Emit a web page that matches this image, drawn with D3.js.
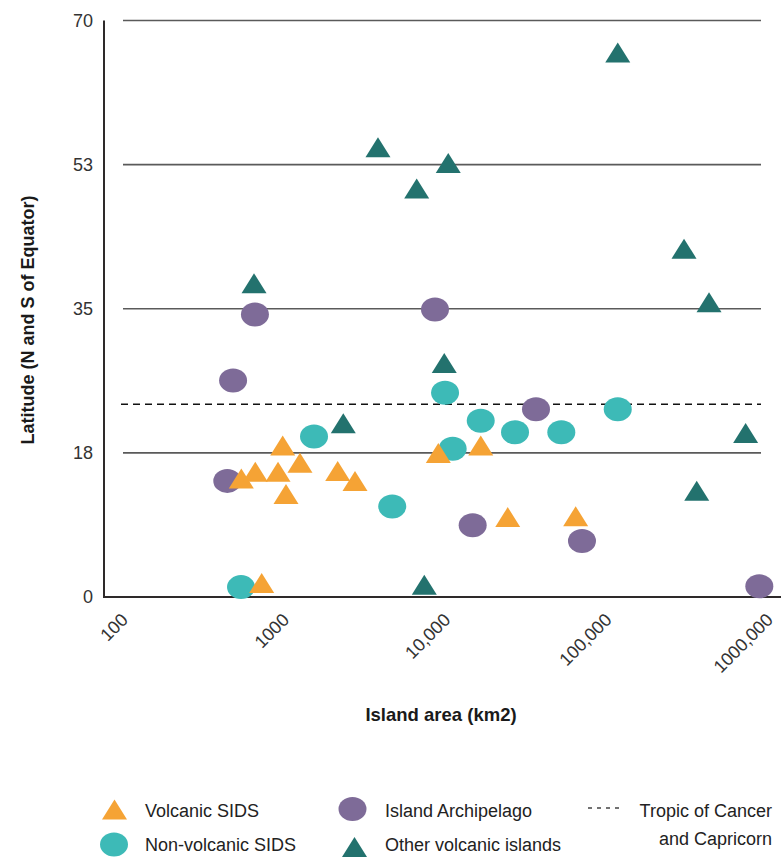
<!DOCTYPE html>
<html>
<head>
<meta charset="utf-8">
<script src="https://cdn.jsdelivr.net/npm/d3@7"></script>
<style>
  html, body { margin: 0; padding: 0; background: #fff; }
  svg { display: block; font-family: "Liberation Sans", Arial, sans-serif; }
</style>
</head>
<body>
<svg id="chart" width="781" height="857"></svg>
<script>
// Island area (km²) and latitude (degrees N or S of the equator)
const volcanicSidsArea = [898, 497, 607, 840, 1149, 941, 1968, 2521, 665, 8280, 15180, 22320, 58890];
const volcanicSidsLat  = [18.4, 14.4, 15.2, 15.2, 16.3, 12.5, 15.3, 14.1, 1.7, 17.5, 18.4, 9.7, 9.8];

const nonVolcanicSidsArea = [9120, 1404, 15180, 10170, 24770, 47970, 107400, 4290, 495];
const nonVolcanicSidsLat  = [24.8, 19.5, 21.4, 18.0, 20.0, 20.0, 22.8, 11.0, 1.2];

const archipelagoArea = [604, 7900, 442, 33420, 407, 13530, 64450, 810800];
const archipelagoLat  = [34.3, 34.9, 26.3, 22.8, 14.1, 8.7, 6.8, 1.3];

const otherVolcanicArea = [107400, 3500, 9550, 6085, 596, 276700, 395400, 9020, 2133, 667000, 331700, 6780];
const otherVolcanicLat  = [66.1, 54.6, 52.7, 49.6, 38.1, 42.3, 35.8, 28.4, 21.1, 19.9, 12.9, 1.5];

const yTicks = [0, 17.5, 35, 52.5, 70];
const yTickLabels = ["0", "18", "35", "53", "70"];
const xTicks = [100, 1000, 10000, 100000, 1000000];
const xTickLabels = ["100", "1000", "10,000", "100,000", "1000,000"];
const tropicLat = 23.4;

const colors = {
  volcanic: "#f5a335",
  nonVolcanic: "#3dbab7",
  archipelago: "#7e6b98",
  other: "#23726e"
};

const svg = d3.select("#chart");

const x = d3.scaleLog().domain([100, 1000000]).range([129, 774]);
const y = d3.scaleLinear().domain([0, 70]).range([597, 20.5]);

const zip = (a, b) => a.map((v, i) => ({ area: v, lat: b[i] }));

// Horizontal gridlines (all except the baseline)
svg.append("g")
  .selectAll("line")
  .data(yTicks.filter(d => d > 0))
  .join("line")
  .attr("x1", 123).attr("x2", 761)
  .attr("y1", d => y(d)).attr("y2", d => y(d))
  .attr("stroke", "#5a5a5a")
  .attr("stroke-width", 1.6);

// Tropic of Cancer / Capricorn
svg.append("line")
  .attr("x1", 121).attr("x2", 761)
  .attr("y1", y(tropicLat)).attr("y2", y(tropicLat))
  .attr("stroke", "#111")
  .attr("stroke-width", 1.4)
  .attr("stroke-dasharray", "7,5");

// Axes
svg.append("line")
  .attr("x1", 104).attr("x2", 104)
  .attr("y1", y(70)).attr("y2", y(0))
  .attr("stroke", "#2e2a2a").attr("stroke-width", 2);
svg.append("line")
  .attr("x1", 103).attr("x2", 781)
  .attr("y1", y(0)).attr("y2", y(0))
  .attr("stroke", "#2e2a2a").attr("stroke-width", 2);

// Y tick labels
svg.append("g")
  .selectAll("text")
  .data(yTicks)
  .join("text")
  .attr("x", 93)
  .attr("y", d => y(d))
  .attr("dy", "0.36em")
  .attr("text-anchor", "end")
  .attr("font-size", 18)
  .attr("fill", "#333")
  .text((d, i) => yTickLabels[i]);

// X tick labels, rotated
svg.append("g")
  .selectAll("text")
  .data(xTicks)
  .join("text")
  .attr("transform", d => `translate(${x(d)},621) rotate(-45)`)
  .attr("text-anchor", "end")
  .attr("font-size", 18)
  .attr("fill", "#333")
  .text((d, i) => xTickLabels[i]);

// Axis titles
svg.append("text")
  .attr("transform", "translate(34,320) rotate(-90)")
  .attr("text-anchor", "middle")
  .attr("font-size", 18)
  .attr("font-weight", "bold")
  .attr("fill", "#1a1a1a")
  .text("Latitude (N and S of Equator)");

svg.append("text")
  .attr("x", 441).attr("y", 721)
  .attr("text-anchor", "middle")
  .attr("font-size", 18.5)
  .attr("font-weight", "bold")
  .attr("fill", "#1a1a1a")
  .text("Island area (km2)");

// Marker shapes
const triPath = "M-12.5,10L12.5,10L0,-10Z";
const rx = 14, ry = 12;

function ellipses(data, color) {
  svg.append("g")
    .selectAll("ellipse")
    .data(data)
    .join("ellipse")
    .attr("cx", d => x(d.area))
    .attr("cy", d => y(d.lat))
    .attr("rx", rx).attr("ry", ry)
    .attr("fill", color);
}
function triangles(data, color) {
  svg.append("g")
    .selectAll("path")
    .data(data)
    .join("path")
    .attr("transform", d => `translate(${x(d.area)},${y(d.lat)})`)
    .attr("d", triPath)
    .attr("fill", color);
}

ellipses(zip(archipelagoArea, archipelagoLat), colors.archipelago);
ellipses(zip(nonVolcanicSidsArea, nonVolcanicSidsLat), colors.nonVolcanic);
triangles(zip(otherVolcanicArea, otherVolcanicLat), colors.other);
triangles(zip(volcanicSidsArea, volcanicSidsLat), colors.volcanic);

// Legend
const legend = svg.append("g").attr("font-size", 18).attr("fill", "#222");

legend.append("path").attr("transform", "translate(114.5,809.5)").attr("d", triPath).attr("fill", colors.volcanic);
legend.append("text").attr("x", 145).attr("y", 817).text("Volcanic SIDS");

legend.append("ellipse").attr("cx", 114).attr("cy", 844.5).attr("rx", rx).attr("ry", ry).attr("fill", colors.nonVolcanic);
legend.append("text").attr("x", 145).attr("y", 851).text("Non-volcanic SIDS");

legend.append("ellipse").attr("cx", 352.5).attr("cy", 809).attr("rx", rx).attr("ry", ry).attr("fill", colors.archipelago);
legend.append("text").attr("x", 385).attr("y", 817).text("Island Archipelago");

legend.append("path").attr("transform", "translate(354.5,847)").attr("d", triPath).attr("fill", colors.other);
legend.append("text").attr("x", 385).attr("y", 851).text("Other volcanic islands");

legend.append("line")
  .attr("x1", 588).attr("x2", 621).attr("y1", 808).attr("y2", 808)
  .attr("stroke", "#444").attr("stroke-width", 1.5).attr("stroke-dasharray", "4,5");
legend.append("text").attr("x", 772).attr("y", 817).attr("text-anchor", "end").text("Tropic of Cancer");
legend.append("text").attr("x", 772).attr("y", 845).attr("text-anchor", "end").text("and Capricorn");
</script>
</body>
</html>
